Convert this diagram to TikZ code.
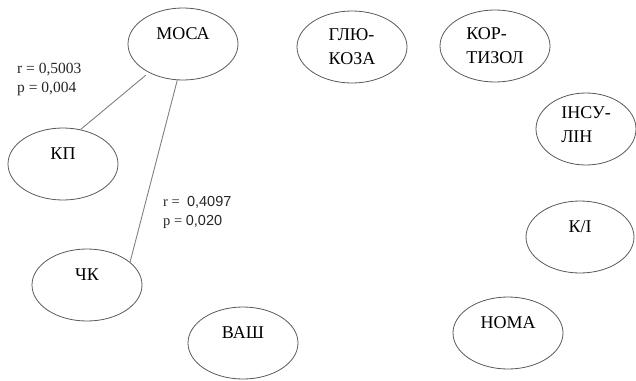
\documentclass[tikz,border=0pt]{standalone}
\usepackage{fontspec}
\setmainfont{Liberation Serif}
\setsansfont{Liberation Sans}
\usetikzlibrary{shapes}

\begin{document}
\begin{tikzpicture}[x=1pt, y=-1pt,
factor/.style={ellipse, draw=black!65, line width=.8pt, minimum width=110pt, minimum height=72pt, inner sep=0pt, font=\fontsize{18}{24}\selectfont},
raised/.style={text depth=20pt},
corr/.style={draw=black!50, line width=.9pt},
stat/.style={anchor=west, align=left, text=black!85, inner sep=0pt, font=\fontsize{15.5}{19}\selectfont}]

%%%%%% FRAME %%%%%%%%%%

\useasboundingbox (0,0) rectangle (636,380);

%%%%%% FACTORS %%%%%%%%%%

\node [factor, raised] (mosa) at (183,44) {МОСА};
\node [factor, raised] (kp) at (63,164) {КП};
\node [factor, raised] (chk) at (87,285) {ЧК};
\node [factor, raised] (vash) at (243,343) {ВАШ};
\node [factor, align=left] (gluc) at (352,47) {ГЛЮ-\\КОЗА};
\node [factor, align=left] (cort) at (495,46) {КОР-\\ТИЗОЛ};
\node [factor, align=left, minimum width=100pt, text depth=8pt] (ins) at (586,129) {ІНСУ-\\ЛІН};
\node [factor, raised, minimum width=108pt] (ki) at (580,237) {К/І};
\node [factor, raised] (homa) at (508,333) {НОМА};

%%%%%% CORRELATIONS %%%%%%%%%%

\draw [corr, shorten <=4pt] (mosa.220) -- (kp.63);
\draw [corr] (mosa.261) -- (chk.28);

\node [stat] (s1) at (17,79) {r = 0,5003\\p = 0,004};
\node [stat, font=\fontsize{14.5}{19}\selectfont] (s2) at (163,212) {r = \ {\sffamily 0,4097}\\p = {\sffamily 0,020}};

\end{tikzpicture}
\end{document}
